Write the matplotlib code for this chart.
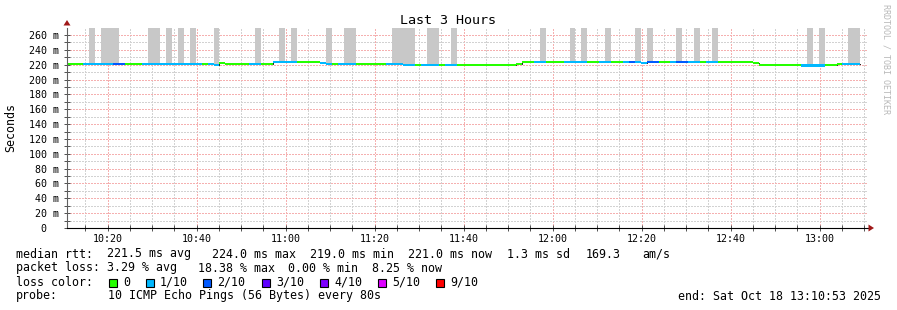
import numpy as np
import matplotlib
matplotlib.use('Agg')
import matplotlib.pyplot as plt
import matplotlib.dates as mdates
from matplotlib.ticker import MultipleLocator, FuncFormatter
from matplotlib.patches import Rectangle, Polygon
from datetime import datetime, timedelta

plt.rcParams['font.family'] = ['DejaVu Sans Mono', 'DejaVu Sans']

# time frame
t_end = datetime(2025, 10, 18, 13, 10, 53)
t_start = t_end - timedelta(hours=3)
step_s = 80          # one ping round every 80s
first_offset_s = -24 # first bin starts a bit before the left edge
n_bins = 134

# median rtt (ms) and loss bucket, run-length coded by bin index
seg_start = [0, 3, 8, 10, 13, 23, 24, 25, 26, 27, 31, 33, 35, 39, 43, 44, 45, 46, 49, 54,
             57, 59, 60, 63, 64, 66, 76, 77, 79, 81, 84, 88, 90, 92, 94, 95, 96, 97, 98, 100,
             102, 103, 105, 107, 108, 110, 116, 117, 124, 128, 130, 131]
seg_loss = [0, 1, 2, 0, 1, 0, 1, 1, 0, 0, 1, 0, 1, 0, 1, 1, 0, 1, 0, 1,
            1, 0, 1, 0, 1, 0, 0, 0, 1, 0, 1, 0, 1, 0, 1, 2, 1, 1, 2, 0,
            1, 2, 1, 0, 1, 0, 0, 0, 1, 0, 0, 1]
seg_median = [220.9, 220.9, 220.9, 220.9, 220.9, 220.9, 220.9, 219.6, 222.5, 220.9,
              220.9, 220.9, 223.3, 223.3, 222.3, 220.9, 220.9, 220.9, 220.9, 220.9,
              219.6, 219.6, 219.6, 219.6, 219.6, 219.6, 220.9, 223.5, 223.5, 223.5,
              223.5, 223.5, 223.5, 223.5, 223.5, 224.0, 223.5, 222.8, 223.3, 223.5,
              223.5, 223.5, 223.5, 223.5, 223.5, 223.5, 222.3, 219.6, 219.0, 219.6,
              220.9, 220.9]

# bins where the smoke goes above the top of the graph
smoke_bins = [4, 6, 7, 8, 14, 15, 17, 19, 21, 25, 32, 36, 38, 44, 47, 48, 55, 56, 57, 58,
              61, 62, 65, 80, 85, 87, 91, 96, 98, 103, 106, 109, 125, 127, 132, 133]

loss_colors = ['#26ff00', '#00b8ff', '#0059ff', '#5e00ff', '#7e00ff', '#dd00ff', '#ff0000']
loss_labels = ['0', '1/10', '2/10', '3/10', '4/10', '5/10', '9/10']

counts = np.diff(seg_start + [n_bins])
loss = np.repeat(seg_loss, counts)
median = np.repeat(seg_median, counts)

x = np.array([mdates.date2num(t_start + timedelta(seconds=first_offset_s + step_s * j))
              for j in range(n_bins)])
w = step_s / 86400.0

W, H = 897, 310
fig = plt.figure(figsize=(W / 100, H / 100), dpi=100)
fig.patch.set_facecolor('white')

def px(xp, yp):
    return (xp / W, 1 - yp / H)

ax = fig.add_axes([67 / W, 82 / H, 801 / W, 200 / H])
ax.set_axisbelow(True)

# smoke
ax.bar(x[smoke_bins], 300 - median[smoke_bins], width=w, bottom=median[smoke_bins],
       align='edge', color='#c8c8c8', linewidth=0, zorder=1)
# thin median line, visible at the steps only
ax.step(np.append(x, x[-1] + w), np.append(median, median[-1]), where='post',
        color='#202020', lw=0.7, zorder=1.5)
# loss coloured median band
ax.bar(x, 2.8, width=w, bottom=median - 1.4, align='edge',
       color=[loss_colors[l] for l in loss], linewidth=0, zorder=2)

ax.set_xlim(mdates.date2num(t_start), mdates.date2num(t_end))
ax.set_ylim(0, 269.5)

ax.yaxis.set_major_locator(MultipleLocator(20))
ax.yaxis.set_minor_locator(MultipleLocator(10))
ax.yaxis.set_major_formatter(FuncFormatter(lambda v, p: '0  ' if v == 0 else '%d m' % v))
ax.xaxis.set_major_locator(mdates.MinuteLocator(byminute=[0, 20, 40]))
ax.xaxis.set_minor_locator(mdates.MinuteLocator(byminute=range(0, 60, 5)))
ax.xaxis.set_major_formatter(mdates.DateFormatter('%H:%M'))

ax.grid(which='minor', color='#d2d2d2', linestyle=(0, (1.4, 1.4)), linewidth=1.0,
        antialiased=False)
ax.grid(which='major', color='#f5b0b0', linestyle=(0, (1.4, 1.4)), linewidth=1.0,
        antialiased=False)

ax.tick_params(which='both', direction='inout', length=4, width=0.7, color='#505050',
               labelsize=7.2)
ax.tick_params(axis='y', which='major', pad=4)
ax.tick_params(axis='x', which='major', pad=2)

for s in ['top', 'right']:
    ax.spines[s].set_visible(False)
ax.spines['left'].set_color('#606060')
ax.spines['left'].set_linewidth(0.8)
ax.spines['bottom'].set_color('black')
ax.spines['bottom'].set_linewidth(0.8)

# axis arrows
arrow_col = '#a01818'
fig.add_artist(Polygon([px(67, 20), px(63.5, 25.5), px(70.5, 25.5)], closed=True,
                       transform=fig.transFigure, color=arrow_col, lw=0))
fig.add_artist(Polygon([px(874, 228), px(868.5, 224.5), px(868.5, 231.5)], closed=True,
                       transform=fig.transFigure, color=arrow_col, lw=0))

# titles
fig.text(*px(448, 20), 'Last 3 Hours', ha='center', va='center', fontsize=9.6)
fig.text(*px(11, 127), 'Seconds', ha='center', va='center', rotation=90, fontsize=8.4)
fig.text(*px(886, 4), 'RRDTOOL / TOBI OETIKER', ha='center', va='top', rotation=270,
         fontsize=6, color='#b8b8b8')

fs = 8.4
# legend
y1 = 254
fig.text(*px(16, y1), 'median rtt:', va='center', fontsize=fs)
for xp, s in [(107, '221.5 ms avg'), (212, '224.0 ms max'), (310, '219.0 ms min'),
              (408, '221.0 ms now'), (507, '1.3 ms sd'), (586, '169.3'), (642, 'am/s')]:
    fig.text(*px(xp, y1), s, va='center', fontsize=fs)

y2 = 268
fig.text(*px(16, y2), 'packet loss:', va='center', fontsize=fs)
for xp, s in [(107, '3.29 % avg'), (198, '18.38 % max'), (288, '0.00 % min'),
              (372, '8.25 % now')]:
    fig.text(*px(xp, y2), s, va='center', fontsize=fs)

y3 = 282
fig.text(*px(16, y3), 'loss color:', va='center', fontsize=fs)
text_x = [123, 160, 217, 276, 334, 392, 450]
for tx, col, lab in zip(text_x, loss_colors, loss_labels):
    bx = tx - 14
    fig.add_artist(Rectangle(px(bx, 287), 8 / W, 8 / H, transform=fig.transFigure,
                             facecolor=col, edgecolor='black', lw=0.8))
    fig.text(*px(tx, y3), lab, va='center', fontsize=fs)

y4 = 296
fig.text(*px(16, y4), 'probe:', va='center', fontsize=fs)
fig.text(*px(108, y4), '10 ICMP Echo Pings (56 Bytes) every 80s', va='center', fontsize=fs)
fig.text(*px(881, y4), 'end: Sat Oct 18 13:10:53 2025', ha='right', va='center', fontsize=fs)

fig.savefig('out.png', dpi=100)
